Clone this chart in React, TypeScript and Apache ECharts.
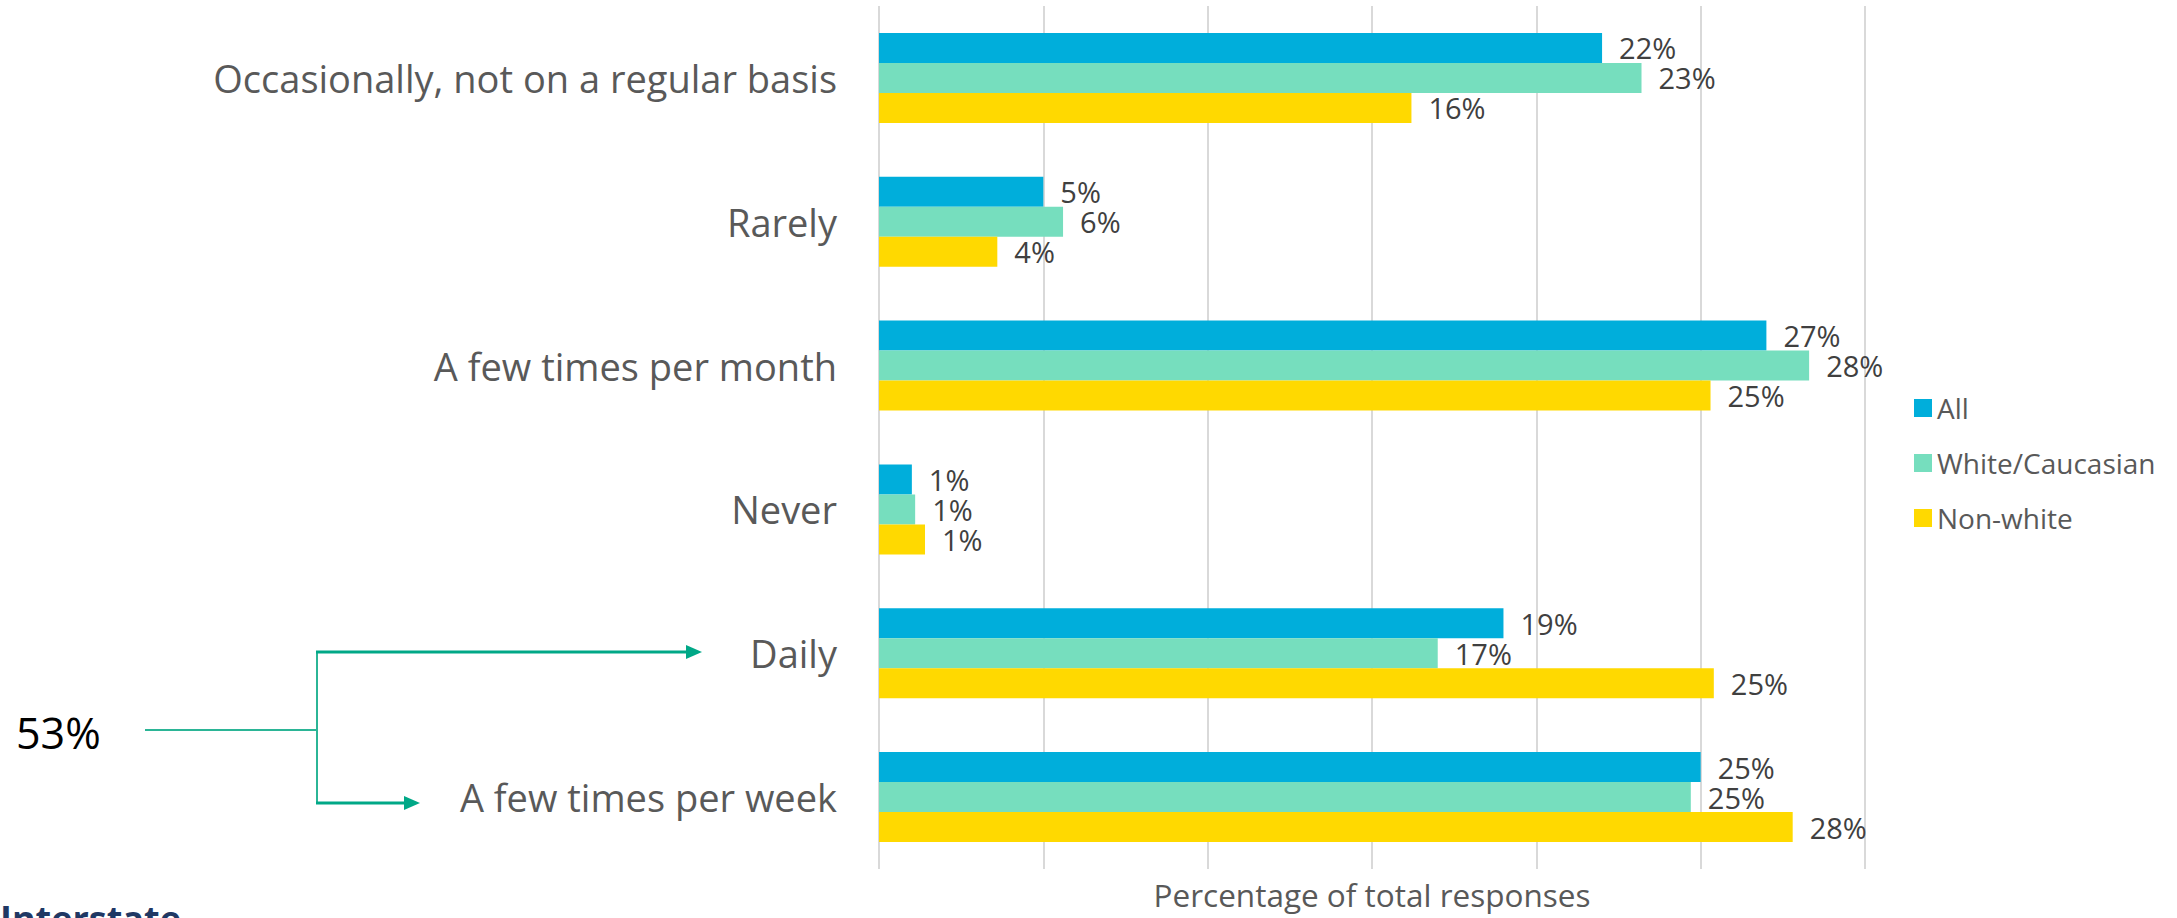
import React, { useEffect, useRef } from "react";
import * as echarts from "echarts";

const categories = [
  "Occasionally, not on a regular basis",
  "Rarely",
  "A few times per month",
  "Never",
  "Daily",
  "A few times per week",
];
const seriesNames = ["All", "White/Caucasian", "Non-white"];
const allValues = [22.0, 5.0, 27.0, 1.0, 19.0, 25.0];
const whiteValues = [23.2, 5.6, 28.3, 1.1, 17.0, 24.7];
const nonWhiteValues = [16.2, 3.6, 25.3, 1.4, 25.4, 27.8];
const colors = ["#00AEDB", "#76DEBE", "#FFD900"];
const axisTitle = "Percentage of total responses";
const annotationText = "53%";
const footerText = "Interstate";

const FONT = "'Open Sans', 'Noto Sans', sans-serif";

export default function App() {
  const ref = useRef<HTMLDivElement>(null);
  useEffect(() => {
    if (!ref.current) return;
    const chart = echarts.init(ref.current, undefined, { renderer: "svg" });
    const data = [allValues, whiteValues, nonWhiteValues];
    const arrowColor = "#00A887";
    const thinColor = "#2BB596";
    chart.setOption({
      animation: false,
      backgroundColor: "#ffffff",
      textStyle: { fontFamily: FONT },
      grid: { left: 879, right: 312, top: 6, bottom: 49, containLabel: false },
      legend: {
        orient: "vertical",
        left: 1909,
        top: 389,
        icon: "rect",
        itemWidth: 18,
        itemHeight: 18,
        itemGap: 27,
        textStyle: { fontSize: 28, color: "#595959", fontFamily: FONT, lineHeight: 28 },
        data: seriesNames,
      },
      xAxis: {
        type: "value",
        min: 0,
        max: 30,
        interval: 5,
        axisLabel: { show: false },
        axisLine: { show: false },
        axisTick: { show: false },
        splitLine: { show: true, lineStyle: { color: "#D9D9D9", width: 2 } },
        name: axisTitle,
        nameLocation: "middle",
        nameGap: 9,
        nameTextStyle: { fontSize: 31.5, color: "#595959", fontFamily: FONT },
      },
      yAxis: {
        type: "category",
        inverse: true,
        data: categories,
        axisLine: { show: false },
        axisTick: { show: false },
        axisLabel: { fontSize: 38, color: "#595959", margin: 42, fontFamily: FONT },
      },
      series: seriesNames.map((name, i) => ({
        name,
        type: "bar",
        data: data[i],
        barWidth: 30,
        barGap: "0%",
        itemStyle: { color: colors[i] },
        label: {
          show: true,
          position: "right",
          distance: 17,
          fontSize: 29,
          color: "#404040",
          fontFamily: FONT,
          formatter: (p: any) => Math.round(p.value) + "%",
        },
      })),
      graphic: [
        {
          type: "text",
          left: 16,
          top: 711,
          style: { text: annotationText, fontSize: 43, fill: "#000000", fontFamily: FONT },
        },
        {
          type: "line",
          shape: { x1: 145, y1: 730, x2: 317, y2: 730 },
          style: { stroke: thinColor, lineWidth: 2 },
        },
        {
          type: "line",
          shape: { x1: 317, y1: 651, x2: 317, y2: 804 },
          style: { stroke: thinColor, lineWidth: 2 },
        },
        {
          type: "line",
          shape: { x1: 316, y1: 652, x2: 688, y2: 652 },
          style: { stroke: arrowColor, lineWidth: 3 },
        },
        {
          type: "polygon",
          shape: { points: [[686, 645], [702, 652], [686, 659]] },
          style: { fill: arrowColor },
        },
        {
          type: "line",
          shape: { x1: 316, y1: 803, x2: 406, y2: 803 },
          style: { stroke: arrowColor, lineWidth: 3 },
        },
        {
          type: "polygon",
          shape: { points: [[404, 796], [420, 803], [404, 810]] },
          style: { fill: arrowColor },
        },
        {
          type: "text",
          left: 0,
          top: 900,
          style: { text: footerText, fontSize: 36, fontWeight: "bold", fill: "#1F3864", fontFamily: FONT },
        },
      ],
    });
    return () => chart.dispose();
  }, []);
  return (
    <div
      ref={ref}
      style={{ position: "fixed", left: 0, top: 0, width: 2177, height: 918 }}
    />
  );
}
